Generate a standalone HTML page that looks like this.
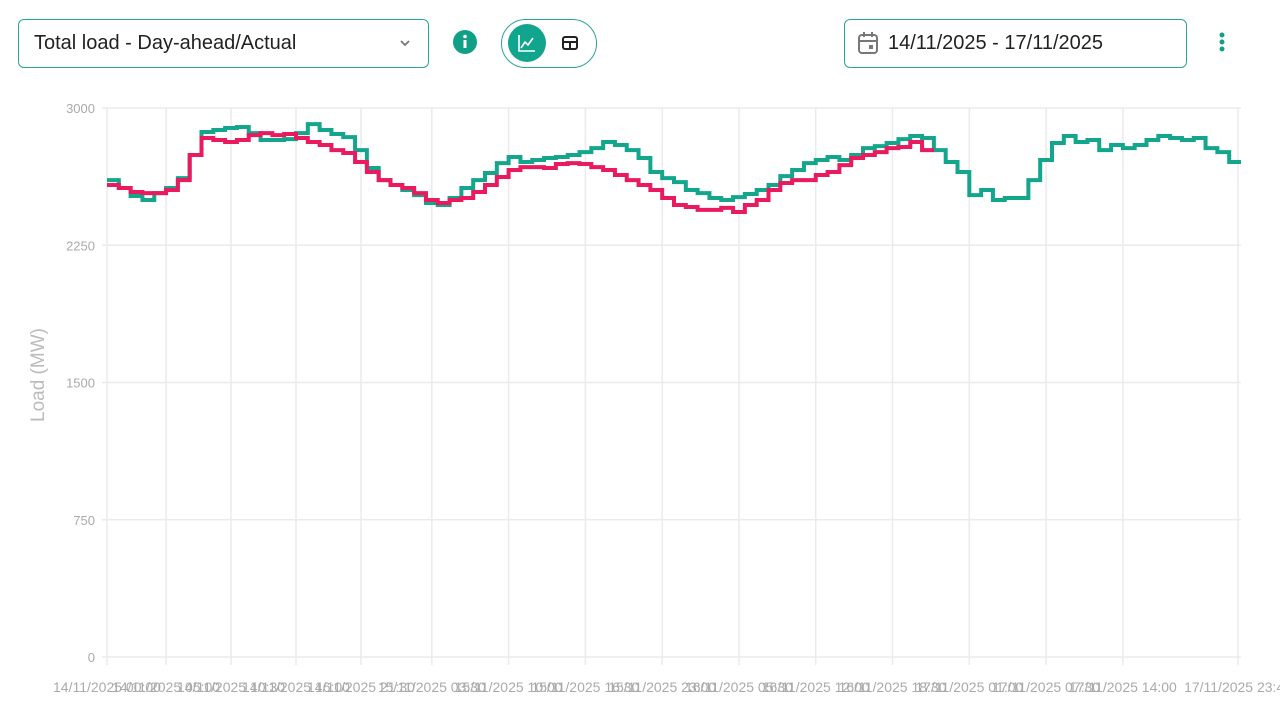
<!DOCTYPE html>
<html><head><meta charset="utf-8"><style>
body{margin:0;width:1280px;height:704px;background:#fff;font-family:"Liberation Sans",sans-serif;overflow:hidden;position:relative}
.box{position:absolute;border:1.5px solid #2aa596;border-radius:6px;box-sizing:border-box}
</style></head><body>
<div class="box" style="left:18px;top:19px;width:411px;height:49px">
<span style="position:absolute;left:15px;top:12px;font-size:20px;color:#222">Total load - Day-ahead/Actual</span>
<svg style="position:absolute;left:380px;top:18px" width="12" height="10"><path d="M2 3 L6 7 L10 3" stroke="#777" stroke-width="1.8" fill="none"/></svg></div>
<svg style="position:absolute;left:453px;top:30px" width="24" height="24"><circle cx="12" cy="12" r="12" fill="#10a088"/><rect x="10.5" y="10" width="3" height="8" fill="#fff"/><circle cx="12" cy="6.5" r="1.8" fill="#fff"/></svg>
<div class="box" style="left:501px;top:19px;width:96px;height:49px;border-radius:25px"></div>
<svg style="position:absolute;left:507px;top:23px" width="40" height="40"><circle cx="20" cy="20" r="19" fill="#12a58d"/><path d="M12 12 V28 H28 M14 25 L18 19 L21 22 L26 15" stroke="#fff" stroke-width="1.6" fill="none"/></svg>
<svg style="position:absolute;left:562px;top:36px" width="16" height="14"><rect x="1" y="1" width="14" height="12" rx="2" fill="none" stroke="#222" stroke-width="2"/><path d="M1 6 H15 M8 6 V13" stroke="#222" stroke-width="2"/></svg>
<div class="box" style="left:844px;top:19px;width:343px;height:49px">
<svg style="position:absolute;left:12px;top:11px" width="22" height="24"><rect x="2" y="4" width="18" height="18" rx="3" fill="none" stroke="#777" stroke-width="2"/><path d="M2 10 H20 M7 1 V6 M15 1 V6" stroke="#777" stroke-width="2"/><rect x="12" y="14" width="4" height="4" fill="#777"/></svg>
<span style="position:absolute;left:43px;top:12px;font-size:20px;color:#222">14/11/2025 - 17/11/2025</span></div>
<svg style="position:absolute;left:1217px;top:31px" width="10" height="24"><circle cx="5" cy="4" r="2.5" fill="#10a088"/><circle cx="5" cy="11" r="2.5" fill="#10a088"/><circle cx="5" cy="18" r="2.5" fill="#10a088"/></svg>
<svg id="chart" style="position:absolute;left:0;top:0" width="1280" height="704"></svg>
<script>
const yTicks=[0,750,1500,2250,3000];
const xTickHours=[0,5,10.5,16,21.5,27.5,34,40.5,47,53.5,60,66.5,73,79.5,86,95.75];
const xTickLabels=["14/11/2025 00:00","14/11/2025 05:00","14/11/2025 10:30","14/11/2025 16:00","14/11/2025 21:30","15/11/2025 03:30","15/11/2025 10:00","15/11/2025 16:30","15/11/2025 23:00","16/11/2025 05:30","16/11/2025 12:00","16/11/2025 18:30","17/11/2025 01:00","17/11/2025 07:30","17/11/2025 14:00","17/11/2025 23:45"];
const dayAhead=[2606,2563,2519,2497,2535,2563,2617,2743,2869,2880,2891,2896,2863,2825,2825,2830,2863,2912,2880,2858,2841,2770,2672,2606,2579,2552,2524,2481,2470,2508,2563,2606,2645,2699,2732,2705,2716,2727,2732,2743,2759,2781,2814,2798,2770,2727,2650,2617,2595,2552,2535,2508,2497,2513,2530,2552,2579,2628,2661,2699,2716,2732,2716,2743,2781,2792,2809,2830,2847,2836,2770,2705,2650,2524,2552,2497,2508,2508,2606,2716,2809,2847,2814,2825,2770,2798,2781,2798,2825,2847,2836,2825,2836,2781,2759,2705];
const actual=[2579,2563,2541,2535,2535,2552,2606,2743,2836,2825,2814,2825,2852,2863,2852,2858,2836,2814,2798,2770,2754,2705,2650,2606,2579,2563,2535,2497,2481,2497,2508,2541,2579,2623,2661,2677,2677,2672,2694,2699,2694,2677,2661,2634,2606,2579,2552,2508,2470,2459,2443,2443,2454,2432,2470,2497,2552,2590,2606,2606,2634,2650,2688,2727,2743,2759,2781,2787,2814,2770];
const svg=document.getElementById('chart'),NS='http://www.w3.org/2000/svg';
const X0=107,X1=1241,Y0=657,Y1=108;
const xs=h=>X0+h/96*(X1-X0), ys=v=>Y0-v/3000*(Y0-Y1);
function mk(t,a,txt){const e=document.createElementNS(NS,t);for(const k in a)e.setAttribute(k,a[k]);if(txt!=null)e.textContent=txt;svg.appendChild(e);return e;}
yTicks.forEach(v=>{
const g=mk('line',{x1:X0-5,x2:X1,y1:ys(v),y2:ys(v),stroke:'#ebebeb','stroke-width':1.5});


const t=mk('text',{x:95,y:ys(v)+5,'text-anchor':'end','font-size':13,fill:'#aaa'},v);


});
xTickHours.forEach((h,i)=>{
const g=mk('line',{x1:xs(h),x2:xs(h),y1:Y1,y2:Y0+8,stroke:'#ebebeb','stroke-width':1.5});


const t=mk('text',{x:xs(h),y:692,'text-anchor':'middle','font-size':14,fill:'#aaa'},xTickLabels[i]);


});
const yl=mk('text',{x:0,y:0,transform:'translate(44,375) rotate(-90)','text-anchor':'middle','font-size':19,fill:'#bbb'},'Load (MW)');


function step(arr){let d='';arr.forEach((v,i)=>{d+=(i?'L':'M')+xs(i)+' '+ys(v)+' L'+xs(i+1)+' '+ys(v)+' ';});return d;}
const p1=mk('path',{d:step(dayAhead),stroke:'#13a68c','stroke-width':4,fill:'none'});


const p2=mk('path',{d:step(actual),stroke:'#e91a5e','stroke-width':4,fill:'none'});


</script>
</body></html>
